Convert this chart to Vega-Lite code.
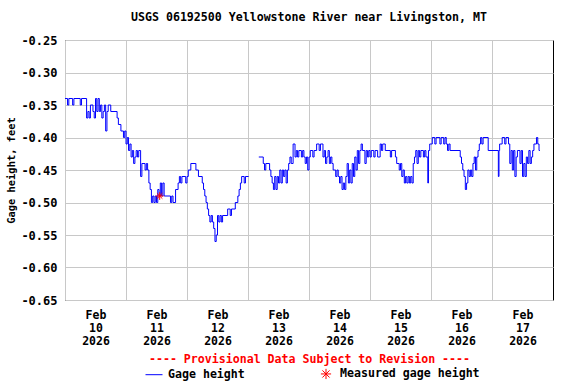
{
  "$schema": "https://vega.github.io/schema/vega-lite/v6.json",
  "width": 488,
  "height": 260,
  "autosize": {"type": "none"},
  "padding": {"left": 65, "top": 40, "right": 23, "bottom": 84},
  "background": "white",
  "title": {
    "text": "USGS 06192500 Yellowstone River near Livingston, MT",
    "font": "DejaVu Sans Mono",
    "fontSize": 11.6,
    "fontWeight": "bold",
    "color": "black",
    "anchor": "middle",
    "offset": 10
  },
  "config": {
    "view": {"stroke": "black", "strokeWidth": 1},
    "axis": {
      "gridColor": "#c8c8c8",
      "gridWidth": 1,
      "gridOpacity": 1,
      "ticks": false,
      "tickSize": 0,
      "domain": false,
      "labelFont": "DejaVu Sans Mono",
      "labelFontWeight": "bold",
      "labelFontSize": 11.5,
      "labelColor": "black",
      "titleFont": "DejaVu Sans Mono",
      "titleFontWeight": "bold",
      "titleColor": "black"
    }
  },
  "datasets": {
    "gage": [
      {"t": "2026-02-10T00:00", "v": -0.34, "s": "a"},
      {"t": "2026-02-10T01:00", "v": -0.35, "s": "a"},
      {"t": "2026-02-10T01:30", "v": -0.34, "s": "a"},
      {"t": "2026-02-10T03:00", "v": -0.35, "s": "a"},
      {"t": "2026-02-10T03:30", "v": -0.34, "s": "a"},
      {"t": "2026-02-10T06:00", "v": -0.35, "s": "a"},
      {"t": "2026-02-10T06:30", "v": -0.34, "s": "a"},
      {"t": "2026-02-10T08:30", "v": -0.37, "s": "a"},
      {"t": "2026-02-10T09:00", "v": -0.36, "s": "a"},
      {"t": "2026-02-10T09:30", "v": -0.37, "s": "a"},
      {"t": "2026-02-10T10:00", "v": -0.35, "s": "a"},
      {"t": "2026-02-10T11:00", "v": -0.36, "s": "a"},
      {"t": "2026-02-10T11:30", "v": -0.37, "s": "a"},
      {"t": "2026-02-10T12:00", "v": -0.34, "s": "a"},
      {"t": "2026-02-10T12:30", "v": -0.36, "s": "a"},
      {"t": "2026-02-10T13:00", "v": -0.34, "s": "a"},
      {"t": "2026-02-10T13:30", "v": -0.36, "s": "a"},
      {"t": "2026-02-10T14:00", "v": -0.35, "s": "a"},
      {"t": "2026-02-10T14:30", "v": -0.37, "s": "a"},
      {"t": "2026-02-10T15:00", "v": -0.36, "s": "a"},
      {"t": "2026-02-10T15:30", "v": -0.35, "s": "a"},
      {"t": "2026-02-10T16:00", "v": -0.39, "s": "a"},
      {"t": "2026-02-10T16:30", "v": -0.36, "s": "a"},
      {"t": "2026-02-10T17:00", "v": -0.35, "s": "a"},
      {"t": "2026-02-10T18:00", "v": -0.36, "s": "a"},
      {"t": "2026-02-10T20:30", "v": -0.37, "s": "a"},
      {"t": "2026-02-10T21:00", "v": -0.38, "s": "a"},
      {"t": "2026-02-10T22:00", "v": -0.39, "s": "a"},
      {"t": "2026-02-10T23:00", "v": -0.40, "s": "a"},
      {"t": "2026-02-10T23:30", "v": -0.39, "s": "a"},
      {"t": "2026-02-11T00:00", "v": -0.41, "s": "a"},
      {"t": "2026-02-11T00:30", "v": -0.40, "s": "a"},
      {"t": "2026-02-11T01:00", "v": -0.42, "s": "a"},
      {"t": "2026-02-11T01:30", "v": -0.41, "s": "a"},
      {"t": "2026-02-11T02:00", "v": -0.43, "s": "a"},
      {"t": "2026-02-11T02:30", "v": -0.42, "s": "a"},
      {"t": "2026-02-11T03:00", "v": -0.44, "s": "a"},
      {"t": "2026-02-11T03:30", "v": -0.43, "s": "a"},
      {"t": "2026-02-11T04:00", "v": -0.42, "s": "a"},
      {"t": "2026-02-11T04:30", "v": -0.43, "s": "a"},
      {"t": "2026-02-11T05:00", "v": -0.42, "s": "a"},
      {"t": "2026-02-11T05:45", "v": -0.46, "s": "a"},
      {"t": "2026-02-11T06:15", "v": -0.44, "s": "a"},
      {"t": "2026-02-11T07:30", "v": -0.45, "s": "a"},
      {"t": "2026-02-11T08:00", "v": -0.44, "s": "a"},
      {"t": "2026-02-11T08:30", "v": -0.45, "s": "a"},
      {"t": "2026-02-11T09:00", "v": -0.47, "s": "a"},
      {"t": "2026-02-11T09:30", "v": -0.48, "s": "a"},
      {"t": "2026-02-11T10:00", "v": -0.50, "s": "a"},
      {"t": "2026-02-11T10:30", "v": -0.49, "s": "a"},
      {"t": "2026-02-11T11:00", "v": -0.50, "s": "a"},
      {"t": "2026-02-11T11:30", "v": -0.49, "s": "a"},
      {"t": "2026-02-11T12:00", "v": -0.50, "s": "a"},
      {"t": "2026-02-11T12:30", "v": -0.48, "s": "a"},
      {"t": "2026-02-11T13:00", "v": -0.49, "s": "a"},
      {"t": "2026-02-11T13:30", "v": -0.47, "s": "a"},
      {"t": "2026-02-11T14:00", "v": -0.49, "s": "a"},
      {"t": "2026-02-11T14:30", "v": -0.47, "s": "a"},
      {"t": "2026-02-11T15:00", "v": -0.49, "s": "a"},
      {"t": "2026-02-11T17:30", "v": -0.50, "s": "a"},
      {"t": "2026-02-11T18:00", "v": -0.49, "s": "a"},
      {"t": "2026-02-11T18:30", "v": -0.50, "s": "a"},
      {"t": "2026-02-11T19:30", "v": -0.48, "s": "a"},
      {"t": "2026-02-11T20:30", "v": -0.47, "s": "a"},
      {"t": "2026-02-11T21:00", "v": -0.46, "s": "a"},
      {"t": "2026-02-11T21:30", "v": -0.47, "s": "a"},
      {"t": "2026-02-11T22:00", "v": -0.46, "s": "a"},
      {"t": "2026-02-11T23:30", "v": -0.47, "s": "a"},
      {"t": "2026-02-12T00:00", "v": -0.46, "s": "a"},
      {"t": "2026-02-12T00:30", "v": -0.45, "s": "a"},
      {"t": "2026-02-12T01:30", "v": -0.44, "s": "a"},
      {"t": "2026-02-12T03:30", "v": -0.45, "s": "a"},
      {"t": "2026-02-12T04:30", "v": -0.46, "s": "a"},
      {"t": "2026-02-12T06:00", "v": -0.47, "s": "a"},
      {"t": "2026-02-12T06:30", "v": -0.48, "s": "a"},
      {"t": "2026-02-12T07:00", "v": -0.49, "s": "a"},
      {"t": "2026-02-12T07:30", "v": -0.50, "s": "a"},
      {"t": "2026-02-12T08:00", "v": -0.51, "s": "a"},
      {"t": "2026-02-12T08:30", "v": -0.52, "s": "a"},
      {"t": "2026-02-12T09:00", "v": -0.53, "s": "a"},
      {"t": "2026-02-12T09:30", "v": -0.52, "s": "a"},
      {"t": "2026-02-12T10:00", "v": -0.53, "s": "a"},
      {"t": "2026-02-12T10:30", "v": -0.54, "s": "a"},
      {"t": "2026-02-12T11:00", "v": -0.56, "s": "a"},
      {"t": "2026-02-12T11:30", "v": -0.55, "s": "a"},
      {"t": "2026-02-12T12:00", "v": -0.52, "s": "a"},
      {"t": "2026-02-12T12:30", "v": -0.53, "s": "a"},
      {"t": "2026-02-12T13:00", "v": -0.52, "s": "a"},
      {"t": "2026-02-12T13:30", "v": -0.53, "s": "a"},
      {"t": "2026-02-12T14:00", "v": -0.52, "s": "a"},
      {"t": "2026-02-12T16:00", "v": -0.51, "s": "a"},
      {"t": "2026-02-12T17:00", "v": -0.52, "s": "a"},
      {"t": "2026-02-12T17:30", "v": -0.51, "s": "a"},
      {"t": "2026-02-12T19:00", "v": -0.50, "s": "a"},
      {"t": "2026-02-12T20:00", "v": -0.49, "s": "a"},
      {"t": "2026-02-12T20:30", "v": -0.48, "s": "a"},
      {"t": "2026-02-12T21:00", "v": -0.47, "s": "a"},
      {"t": "2026-02-12T21:30", "v": -0.46, "s": "a"},
      {"t": "2026-02-12T22:30", "v": -0.47, "s": "a"},
      {"t": "2026-02-12T23:00", "v": -0.46, "s": "a"},
      {"t": "2026-02-13T00:15", "v": -0.46, "s": "a"},
      {"t": "2026-02-13T04:15", "v": -0.43, "s": "b"},
      {"t": "2026-02-13T06:00", "v": -0.44, "s": "b"},
      {"t": "2026-02-13T06:30", "v": -0.45, "s": "b"},
      {"t": "2026-02-13T07:00", "v": -0.44, "s": "b"},
      {"t": "2026-02-13T08:30", "v": -0.45, "s": "b"},
      {"t": "2026-02-13T09:00", "v": -0.46, "s": "b"},
      {"t": "2026-02-13T09:30", "v": -0.47, "s": "b"},
      {"t": "2026-02-13T10:00", "v": -0.48, "s": "b"},
      {"t": "2026-02-13T10:30", "v": -0.46, "s": "b"},
      {"t": "2026-02-13T11:00", "v": -0.48, "s": "b"},
      {"t": "2026-02-13T11:30", "v": -0.46, "s": "b"},
      {"t": "2026-02-13T12:00", "v": -0.47, "s": "b"},
      {"t": "2026-02-13T12:30", "v": -0.45, "s": "b"},
      {"t": "2026-02-13T13:00", "v": -0.47, "s": "b"},
      {"t": "2026-02-13T13:30", "v": -0.45, "s": "b"},
      {"t": "2026-02-13T14:00", "v": -0.46, "s": "b"},
      {"t": "2026-02-13T14:30", "v": -0.45, "s": "b"},
      {"t": "2026-02-13T15:00", "v": -0.47, "s": "b"},
      {"t": "2026-02-13T15:30", "v": -0.45, "s": "b"},
      {"t": "2026-02-13T16:00", "v": -0.44, "s": "b"},
      {"t": "2026-02-13T16:30", "v": -0.43, "s": "b"},
      {"t": "2026-02-13T17:00", "v": -0.44, "s": "b"},
      {"t": "2026-02-13T17:45", "v": -0.41, "s": "b"},
      {"t": "2026-02-13T18:30", "v": -0.43, "s": "b"},
      {"t": "2026-02-13T19:00", "v": -0.42, "s": "b"},
      {"t": "2026-02-13T19:30", "v": -0.43, "s": "b"},
      {"t": "2026-02-13T20:00", "v": -0.42, "s": "b"},
      {"t": "2026-02-13T21:00", "v": -0.43, "s": "b"},
      {"t": "2026-02-13T21:30", "v": -0.42, "s": "b"},
      {"t": "2026-02-13T22:00", "v": -0.43, "s": "b"},
      {"t": "2026-02-13T22:30", "v": -0.44, "s": "b"},
      {"t": "2026-02-13T23:00", "v": -0.43, "s": "b"},
      {"t": "2026-02-13T23:30", "v": -0.45, "s": "b"},
      {"t": "2026-02-14T00:00", "v": -0.43, "s": "b"},
      {"t": "2026-02-14T00:30", "v": -0.42, "s": "b"},
      {"t": "2026-02-14T01:30", "v": -0.43, "s": "b"},
      {"t": "2026-02-14T02:00", "v": -0.42, "s": "b"},
      {"t": "2026-02-14T03:00", "v": -0.41, "s": "b"},
      {"t": "2026-02-14T04:00", "v": -0.42, "s": "b"},
      {"t": "2026-02-14T04:30", "v": -0.41, "s": "b"},
      {"t": "2026-02-14T05:30", "v": -0.43, "s": "b"},
      {"t": "2026-02-14T06:00", "v": -0.42, "s": "b"},
      {"t": "2026-02-14T06:30", "v": -0.44, "s": "b"},
      {"t": "2026-02-14T07:00", "v": -0.43, "s": "b"},
      {"t": "2026-02-14T07:30", "v": -0.42, "s": "b"},
      {"t": "2026-02-14T08:00", "v": -0.44, "s": "b"},
      {"t": "2026-02-14T08:30", "v": -0.43, "s": "b"},
      {"t": "2026-02-14T09:00", "v": -0.44, "s": "b"},
      {"t": "2026-02-14T09:30", "v": -0.45, "s": "b"},
      {"t": "2026-02-14T10:30", "v": -0.46, "s": "b"},
      {"t": "2026-02-14T11:00", "v": -0.45, "s": "b"},
      {"t": "2026-02-14T11:30", "v": -0.46, "s": "b"},
      {"t": "2026-02-14T12:00", "v": -0.47, "s": "b"},
      {"t": "2026-02-14T12:30", "v": -0.46, "s": "b"},
      {"t": "2026-02-14T13:00", "v": -0.48, "s": "b"},
      {"t": "2026-02-14T13:30", "v": -0.47, "s": "b"},
      {"t": "2026-02-14T14:00", "v": -0.48, "s": "b"},
      {"t": "2026-02-14T14:30", "v": -0.46, "s": "b"},
      {"t": "2026-02-14T15:00", "v": -0.44, "s": "b"},
      {"t": "2026-02-14T15:30", "v": -0.47, "s": "b"},
      {"t": "2026-02-14T16:00", "v": -0.45, "s": "b"},
      {"t": "2026-02-14T16:30", "v": -0.47, "s": "b"},
      {"t": "2026-02-14T17:00", "v": -0.44, "s": "b"},
      {"t": "2026-02-14T17:30", "v": -0.46, "s": "b"},
      {"t": "2026-02-14T18:00", "v": -0.43, "s": "b"},
      {"t": "2026-02-14T18:30", "v": -0.45, "s": "b"},
      {"t": "2026-02-14T19:00", "v": -0.42, "s": "b"},
      {"t": "2026-02-14T19:30", "v": -0.44, "s": "b"},
      {"t": "2026-02-14T20:00", "v": -0.42, "s": "b"},
      {"t": "2026-02-14T20:30", "v": -0.41, "s": "b"},
      {"t": "2026-02-14T21:00", "v": -0.42, "s": "b"},
      {"t": "2026-02-14T22:00", "v": -0.44, "s": "b"},
      {"t": "2026-02-14T22:30", "v": -0.42, "s": "b"},
      {"t": "2026-02-14T23:00", "v": -0.43, "s": "b"},
      {"t": "2026-02-14T23:30", "v": -0.42, "s": "b"},
      {"t": "2026-02-15T00:00", "v": -0.43, "s": "b"},
      {"t": "2026-02-15T00:30", "v": -0.42, "s": "b"},
      {"t": "2026-02-15T01:30", "v": -0.43, "s": "b"},
      {"t": "2026-02-15T02:00", "v": -0.42, "s": "b"},
      {"t": "2026-02-15T03:00", "v": -0.43, "s": "b"},
      {"t": "2026-02-15T04:00", "v": -0.41, "s": "b"},
      {"t": "2026-02-15T04:30", "v": -0.42, "s": "b"},
      {"t": "2026-02-15T05:00", "v": -0.41, "s": "b"},
      {"t": "2026-02-15T06:00", "v": -0.42, "s": "b"},
      {"t": "2026-02-15T08:00", "v": -0.43, "s": "b"},
      {"t": "2026-02-15T08:30", "v": -0.42, "s": "b"},
      {"t": "2026-02-15T10:00", "v": -0.43, "s": "b"},
      {"t": "2026-02-15T10:30", "v": -0.44, "s": "b"},
      {"t": "2026-02-15T11:30", "v": -0.45, "s": "b"},
      {"t": "2026-02-15T12:00", "v": -0.44, "s": "b"},
      {"t": "2026-02-15T12:30", "v": -0.46, "s": "b"},
      {"t": "2026-02-15T13:00", "v": -0.45, "s": "b"},
      {"t": "2026-02-15T13:30", "v": -0.47, "s": "b"},
      {"t": "2026-02-15T14:00", "v": -0.46, "s": "b"},
      {"t": "2026-02-15T14:30", "v": -0.47, "s": "b"},
      {"t": "2026-02-15T15:00", "v": -0.46, "s": "b"},
      {"t": "2026-02-15T15:30", "v": -0.47, "s": "b"},
      {"t": "2026-02-15T16:00", "v": -0.46, "s": "b"},
      {"t": "2026-02-15T16:30", "v": -0.47, "s": "b"},
      {"t": "2026-02-15T17:00", "v": -0.44, "s": "b"},
      {"t": "2026-02-15T17:30", "v": -0.43, "s": "b"},
      {"t": "2026-02-15T18:00", "v": -0.42, "s": "b"},
      {"t": "2026-02-15T18:30", "v": -0.44, "s": "b"},
      {"t": "2026-02-15T19:00", "v": -0.42, "s": "b"},
      {"t": "2026-02-15T19:30", "v": -0.43, "s": "b"},
      {"t": "2026-02-15T20:00", "v": -0.42, "s": "b"},
      {"t": "2026-02-15T21:00", "v": -0.43, "s": "b"},
      {"t": "2026-02-15T21:30", "v": -0.42, "s": "b"},
      {"t": "2026-02-15T22:00", "v": -0.43, "s": "b"},
      {"t": "2026-02-15T22:45", "v": -0.47, "s": "b"},
      {"t": "2026-02-15T23:00", "v": -0.42, "s": "b"},
      {"t": "2026-02-15T23:30", "v": -0.41, "s": "b"},
      {"t": "2026-02-16T00:30", "v": -0.40, "s": "b"},
      {"t": "2026-02-16T01:30", "v": -0.41, "s": "b"},
      {"t": "2026-02-16T02:00", "v": -0.40, "s": "b"},
      {"t": "2026-02-16T03:30", "v": -0.41, "s": "b"},
      {"t": "2026-02-16T04:00", "v": -0.40, "s": "b"},
      {"t": "2026-02-16T05:00", "v": -0.41, "s": "b"},
      {"t": "2026-02-16T05:30", "v": -0.40, "s": "b"},
      {"t": "2026-02-16T06:00", "v": -0.41, "s": "b"},
      {"t": "2026-02-16T06:30", "v": -0.42, "s": "b"},
      {"t": "2026-02-16T07:00", "v": -0.41, "s": "b"},
      {"t": "2026-02-16T07:30", "v": -0.42, "s": "b"},
      {"t": "2026-02-16T11:30", "v": -0.43, "s": "b"},
      {"t": "2026-02-16T12:00", "v": -0.44, "s": "b"},
      {"t": "2026-02-16T12:30", "v": -0.45, "s": "b"},
      {"t": "2026-02-16T13:00", "v": -0.46, "s": "b"},
      {"t": "2026-02-16T13:30", "v": -0.48, "s": "b"},
      {"t": "2026-02-16T14:00", "v": -0.47, "s": "b"},
      {"t": "2026-02-16T14:30", "v": -0.45, "s": "b"},
      {"t": "2026-02-16T15:00", "v": -0.46, "s": "b"},
      {"t": "2026-02-16T15:30", "v": -0.45, "s": "b"},
      {"t": "2026-02-16T16:00", "v": -0.46, "s": "b"},
      {"t": "2026-02-16T16:30", "v": -0.44, "s": "b"},
      {"t": "2026-02-16T17:00", "v": -0.43, "s": "b"},
      {"t": "2026-02-16T17:30", "v": -0.45, "s": "b"},
      {"t": "2026-02-16T18:00", "v": -0.43, "s": "b"},
      {"t": "2026-02-16T18:30", "v": -0.42, "s": "b"},
      {"t": "2026-02-16T19:00", "v": -0.41, "s": "b"},
      {"t": "2026-02-16T19:30", "v": -0.40, "s": "b"},
      {"t": "2026-02-16T20:00", "v": -0.41, "s": "b"},
      {"t": "2026-02-16T20:30", "v": -0.40, "s": "b"},
      {"t": "2026-02-16T22:30", "v": -0.42, "s": "b"},
      {"t": "2026-02-17T02:30", "v": -0.46, "s": "b"},
      {"t": "2026-02-17T02:45", "v": -0.42, "s": "b"},
      {"t": "2026-02-17T03:00", "v": -0.41, "s": "b"},
      {"t": "2026-02-17T04:00", "v": -0.40, "s": "b"},
      {"t": "2026-02-17T05:00", "v": -0.41, "s": "b"},
      {"t": "2026-02-17T05:30", "v": -0.40, "s": "b"},
      {"t": "2026-02-17T06:30", "v": -0.41, "s": "b"},
      {"t": "2026-02-17T07:00", "v": -0.44, "s": "b"},
      {"t": "2026-02-17T07:30", "v": -0.42, "s": "b"},
      {"t": "2026-02-17T08:00", "v": -0.45, "s": "b"},
      {"t": "2026-02-17T08:30", "v": -0.42, "s": "b"},
      {"t": "2026-02-17T09:00", "v": -0.46, "s": "b"},
      {"t": "2026-02-17T09:30", "v": -0.43, "s": "b"},
      {"t": "2026-02-17T10:00", "v": -0.42, "s": "b"},
      {"t": "2026-02-17T11:00", "v": -0.44, "s": "b"},
      {"t": "2026-02-17T11:30", "v": -0.42, "s": "b"},
      {"t": "2026-02-17T12:00", "v": -0.46, "s": "b"},
      {"t": "2026-02-17T12:30", "v": -0.44, "s": "b"},
      {"t": "2026-02-17T13:00", "v": -0.46, "s": "b"},
      {"t": "2026-02-17T13:30", "v": -0.43, "s": "b"},
      {"t": "2026-02-17T14:00", "v": -0.44, "s": "b"},
      {"t": "2026-02-17T14:30", "v": -0.42, "s": "b"},
      {"t": "2026-02-17T15:00", "v": -0.44, "s": "b"},
      {"t": "2026-02-17T15:30", "v": -0.43, "s": "b"},
      {"t": "2026-02-17T16:00", "v": -0.42, "s": "b"},
      {"t": "2026-02-17T16:30", "v": -0.41, "s": "b"},
      {"t": "2026-02-17T17:30", "v": -0.40, "s": "b"},
      {"t": "2026-02-17T18:00", "v": -0.41, "s": "b"},
      {"t": "2026-02-17T18:30", "v": -0.42, "s": "b"},
      {"t": "2026-02-17T18:50", "v": -0.42, "s": "b"}
    ],
    "measured": [
      {"t": "2026-02-11T13:15", "v": -0.49, "series": "Measured gage height"}
    ]
  },
  "layer": [
    {
      "data": {"name": "gage"},
      "mark": {"type": "line", "interpolate": "step-after", "color": "#0000ff", "strokeWidth": 1, "clip": true},
      "encoding": {
        "x": {
          "field": "t",
          "type": "temporal",
          "scale": {"domain": [{"year": 2026, "month": 2, "date": 10}, {"year": 2026, "month": 2, "date": 18}]},
          "axis": {
            "values": [
              {"year": 2026, "month": 2, "date": 10},
              {"year": 2026, "month": 2, "date": 11},
              {"year": 2026, "month": 2, "date": 12},
              {"year": 2026, "month": 2, "date": 13},
              {"year": 2026, "month": 2, "date": 14},
              {"year": 2026, "month": 2, "date": 15},
              {"year": 2026, "month": 2, "date": 16},
              {"year": 2026, "month": 2, "date": 17}
            ],
            "tickCount": 30,
            "labelExpr": "[timeFormat(datum.value, '%b'), timeFormat(datum.value, '%d'), timeFormat(datum.value, '%Y')]",
            "labelOffset": 30.5,
            "labelAlign": "center",
            "labelBaseline": "top",
            "labelPadding": 9,
            "labelLineHeight": 13,
            "labelFlush": false,
            "labelOverlap": false,
            "title": "---- Provisional Data Subject to Revision ----",
            "titleColor": "#ff0000",
            "titleFontSize": 11.6,
            "titlePadding": 7
          }
        },
        "y": {
          "field": "v",
          "type": "quantitative",
          "scale": {"domain": [-0.65, -0.25], "nice": false, "zero": false},
          "axis": {
            "values": [-0.65, -0.6, -0.55, -0.5, -0.45, -0.4, -0.35, -0.3, -0.25],
            "tickCount": 30,
            "labelExpr": "replace(format(datum.value, '.2f'), '\u2212', '-')",
            "labelPadding": 8,
            "labelOverlap": false,
            "labelFlush": false,
            "labelFontSize": 12,
            "title": "Gage height, feet",
            "titleFontSize": 10.4,
            "titlePadding": 4
          }
        },
        "detail": {"field": "s", "type": "nominal"}
      }
    },
    {
      "data": {"name": "measured"},
      "mark": {"type": "point", "filled": false, "strokeWidth": 1, "size": 169, "opacity": 1},
      "encoding": {
        "x": {"field": "t", "type": "temporal"},
        "y": {"field": "v", "type": "quantitative"},
        "color": {
          "field": "series",
          "type": "nominal",
          "scale": {"domain": ["Gage height", "Measured gage height"], "range": ["#0000ff", "#ff0000"]},
          "legend": {
            "title": null,
            "orient": "none",
            "legendX": 80,
            "legendY": 324.5,
            "direction": "horizontal",
            "symbolSize": 289,
            "symbolStrokeWidth": 1,
            "labelFont": "DejaVu Sans Mono",
            "labelFontWeight": "bold",
            "labelFontSize": 11.6,
            "labelColor": "black",
            "labelOffset": 5,
            "columnPadding": 72
          }
        },
        "shape": {
          "field": "series",
          "type": "nominal",
          "scale": {
            "domain": ["Gage height", "Measured gage height"],
            "range": ["M-1,0H1", "M-0.6,0H0.6M0,-0.6V0.6M-0.42,-0.42L0.42,0.42M-0.42,0.42L0.42,-0.42"]
          },
          "legend": {
            "title": null,
            "orient": "none",
            "legendX": 80,
            "legendY": 324.5,
            "direction": "horizontal",
            "symbolSize": 289,
            "symbolStrokeWidth": 1,
            "labelFont": "DejaVu Sans Mono",
            "labelFontWeight": "bold",
            "labelFontSize": 11.6,
            "labelColor": "black",
            "labelOffset": 5,
            "columnPadding": 72
          }
        }
      }
    }
  ]
}
